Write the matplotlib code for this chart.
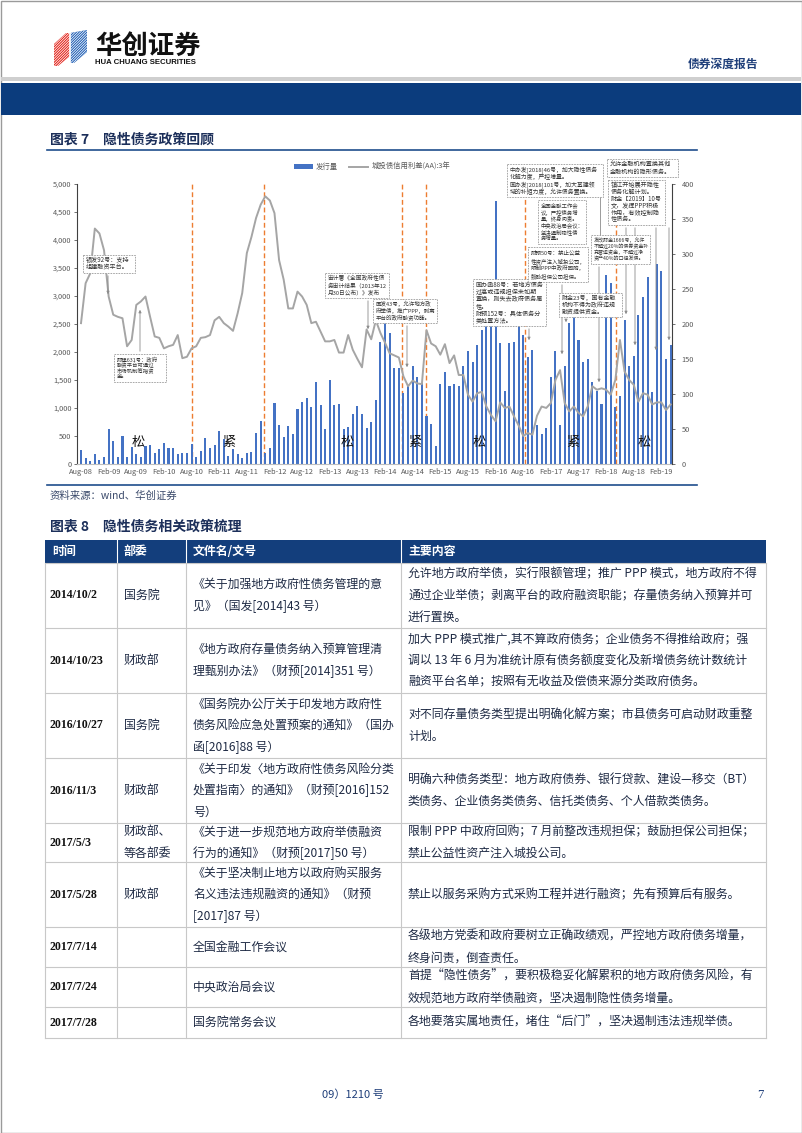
import matplotlib
matplotlib.use("Agg")
import matplotlib.pyplot as plt
from matplotlib.patches import Rectangle, Polygon
from matplotlib.ticker import FuncFormatter, MultipleLocator

plt.rcParams['font.family'] = ['Noto Sans CJK SC', 'DejaVu Sans']

W, H = 802, 1133

# ===== 数据 =====
tick_labels = ['Aug-08', 'Feb-09', 'Aug-09', 'Feb-10', 'Aug-10', 'Feb-11', 'Aug-11',
               'Feb-12', 'Aug-12', 'Feb-13', 'Aug-13', 'Feb-14', 'Aug-14', 'Feb-15',
               'Aug-15', 'Feb-16', 'Aug-16', 'Feb-17', 'Aug-17', 'Feb-18', 'Aug-18', 'Feb-19']

# 发行量（亿元，左轴）
issuance = [250, 100, 50, 170, 70, 130, 620, 410, 130, 500,
            130, 300, 170, 120, 330, 340, 200, 260, 380, 290,
            290, 170, 200, 200, 350, 130, 230, 470, 280, 340,
            580, 450, 140, 260, 170, 100, 190, 220, 550, 760,
            200, 280, 1090, 700, 490, 680, 540, 980, 1100, 1180,
            1020, 1460, 1060, 630, 1500, 1060, 1070, 630, 660, 890,
            1040, 890, 640, 750, 1150, 2170, 2520, 2340, 1720, 1720,
            1265, 1400, 1740, 1560, 1440, 860, 720, 315, 1425, 1640,
            1385, 1425, 1385, 1740, 2020, 1820, 2115, 2390, 2470, 2700,
            4690, 2155, 1306, 2155, 2175, 2470, 2300, 1905, 2035, 700,
            540, 640, 1550, 2020, 695, 1740, 2510, 2810, 2210, 1825,
            1865, 1455, 1306, 1070, 3373, 3225, 1010, 1205, 2560, 1752,
            1935, 2666, 2975, 3337, 1290, 3560, 3440, 1870, 2115]

# 城投债信用利差(AA):3年（bp，右轴）
spread = [201, 258, 272, 336, 329, 305, 239, 213, 210, 208,
          168, 177, 227, 232, 239, 210, 182, 180, 165, 168,
          170, 184, 151, 153, 165, 168, 180, 181, 184, 205,
          210, 201, 196, 190, 215, 244, 301, 324, 351, 370,
          382, 376, 358, 291, 263, 222, 222, 246, 239, 227,
          201, 203, 189, 175, 175, 177, 159, 159, 184, 163,
          150, 138, 192, 178, 205, 187, 173, 158, 155, 152,
          125, 111, 119, 115, 114, 191, 172, 168, 156, 171,
          144, 155, 127, 127, 99, 89, 101, 103, 82, 70,
          61, 88, 80, 82, 68, 55, 40, 44, 42, 69,
          82, 80, 87, 120, 134, 87, 75, 82, 73, 68,
          82, 111, 106, 108, 106, 99, 120, 177, 132, 120,
          113, 89, 101, 99, 85, 88, 88, 77, 85]

policy_idx = [24.1, 39.7, 69.6, 75.0, 96.3, 116.2]
regime_text = ['松', '紧', '松', '紧', '松', '紧', '松']
regime_idx = [12.4, 32.1, 57.7, 72.5, 86.4, 106.7, 122.2]

notes = [
    # (左, 上, 宽, 高, 文本)
    (83, 255, 52, 18, ['银发92号：支持', '组建融资平台。']),
    (114, 354, 52, 28, ['财建631号：政府', '融资平台可通过', '市场机制筹措资', '金。']),
    (325, 273, 64, 25, ['审计署《全国政府性债', '务审计结果（2013年12', '月30日公布）》发布']),
    (373, 299, 64, 24, ['国发43号，允许地方政', '府举债，推广PPP，剥离', '平台的政府融资功能。']),
    (473, 279, 73, 47, ['国办函88号：若地方债务', '过高或违规担保未如期', '置换，则失去政府债务属',
                        '性。', '财预152号：具体债务分', '类处置方法。']),
    (538, 200, 48, 44, ['全国金融工作会', '议，严控债务增', '量，终身问责。', '中央政治局会议：',
                        '坚决遏制隐性债', '务增量。']),
    (528, 247, 60, 35, ['财预50号：禁止公益', '性资产注入城投公司，', '限制PPP中政府回购，', '鼓励担保公司担保。']),
    (507, 164, 96, 33, ['中办发[2018]46号，加大隐性债务', '化解力度，严控增量。',
                        '国办发[2018]101号，加大基建领', '域的补短力度，允许债务置换。']),
    (607, 159, 71, 18, ['允许金融机构置换其他', '金融机构的隐形债务。']),
    (608, 180, 57, 45, ['镇江开始展开隐性', '债务化解计划。', '财金【2019】10号', '文，发挥PPP积极',
                        '作用，有效控制隐', '性债务。']),
    (591, 235, 59, 29, ['发改财金1666号，允许', '不超过20%的债券资金补', '充营运资金，不超过净', '资产40%的口径发债。']),
    (559, 293, 63, 24, ['财金23号，国有金融', '机构不得为政府违规', '融资提供资金。']),
]
arrows = [((108, 273), (108, 297)), ((140, 354), (140, 307)), ((368, 298), (368, 332)),
          ((407, 323), (407, 370)), ((529, 326), (529, 343)), ((562, 282), (562, 357)),
          ((566, 317), (566, 325)), ((599, 264), (599, 385)), ((635, 225), (635, 348)),
          ((626, 225), (626, 317)), ((656, 225), (656, 353)), ((669, 225), (669, 343))]

# ===== 表格数据 =====
t_dates = ['2014/10/2', '2014/10/23', '2016/10/27', '2016/11/3', '2017/5/3',
           '2017/5/28', '2017/7/14', '2017/7/24', '2017/7/28']
t_depts = [['国务院'], ['财政部'], ['国务院'], ['财政部'], ['财政部、', '等各部委'],
           ['财政部'], [], [], []]
t_docs = [['《关于加强地方政府性债务管理的意', '见》（国发[2014]43 号）'],
          ['《地方政府存量债务纳入预算管理清', '理甄别办法》（财预[2014]351 号）'],
          ['《国务院办公厅关于印发地方政府性', '债务风险应急处置预案的通知》（国办', '函[2016]88 号）'],
          ['《关于印发〈地方政府性债务风险分类', '处置指南〉的通知》（财预[2016]152', '号）'],
          ['《关于进一步规范地方政府举债融资', '行为的通知》（财预[2017]50 号）'],
          ['《关于坚决制止地方以政府购买服务', '名义违法违规融资的通知》（财预', '[2017]87 号）'],
          ['全国金融工作会议'],
          ['中央政治局会议'],
          ['国务院常务会议']]
t_content = [['允许地方政府举债，实行限额管理；推广 PPP 模式，地方政府不得',
              '通过企业举债；剥离平台的政府融资职能；存量债务纳入预算并可', '进行置换。'],
             ['加大 PPP 模式推广,其不算政府债务；企业债务不得推给政府；强',
              '调以 13 年 6 月为准统计原有债务额度变化及新增债务统计数统计',
              '融资平台名单；按照有无收益及偿债来源分类政府债务。'],
             ['对不同存量债务类型提出明确化解方案；市县债务可启动财政重整', '计划。'],
             ['明确六种债务类型：地方政府债券、银行贷款、建设—移交（BT）',
              '类债务、企业债务类债务、信托类债务、个人借款类债务。'],
             ['限制 PPP 中政府回购；7 月前整改违规担保；鼓励担保公司担保；', '禁止公益性资产注入城投公司。'],
             ['禁止以服务采购方式采购工程并进行融资；先有预算后有服务。'],
             ['各级地方党委和政府要树立正确政绩观，严控地方政府债务增量，', '终身问责，倒查责任。'],
             ['首提“隐性债务”，要积极稳妥化解累积的地方政府债务风险，有',
              '效规范地方政府举债融资，坚决遏制隐性债务增量。'],
             ['各地要落实属地责任，堵住“后门”，坚决遏制违法违规举债。']]
row_edges = [563, 628, 693, 758, 823, 862, 927, 967, 1007, 1038]
col_edges = [45, 117, 186, 401, 766]
header = ['时间', '部委', '文件名/文号', '主要内容']

NAVY = '#0b3c7d'
TXT = '#1e2a44'
GRID = '#595959'


def em_width(s):
    return sum(0.55 if ord(ch) < 128 else 1.0 for ch in s)


fig = plt.figure(figsize=(W / 100, H / 100), dpi=100)
fig.patch.set_facecolor('white')

# ===== 图表 =====
ax = fig.add_axes([77 / W, 1 - 464 / H, (672 - 77) / W, (464 - 183.7) / H])
x = list(range(len(issuance)))
bars = ax.bar(x, issuance, width=0.45, color='#4472C4', zorder=2, label='发行量')
ax.set_xlim(-0.87, 128.3)
ax.set_ylim(0, 5000)
ax.yaxis.set_major_locator(MultipleLocator(500))
ax.yaxis.set_major_formatter(FuncFormatter(lambda v, p: f'{int(v):,}'))
ax.set_xticks(range(0, 6 * len(tick_labels), 6))
ax.set_xticklabels(tick_labels)
ax.tick_params(axis='both', labelsize=5.3, colors=GRID, length=2, width=0.6, pad=2)
ax.tick_params(axis='x', length=0, pad=3)
for s in ['top', 'right']:
    ax.spines[s].set_visible(False)
ax.spines['left'].set_color('#404040')
ax.spines['bottom'].set_color('#bfbfbf')
for px in policy_idx:
    ax.axvline(px, color='#ED7D31', lw=1.0, dashes=(3.5, 2), zorder=1)
for t, px in zip(regime_text, regime_idx):
    ax.text(px, 390, t, ha='center', va='center', fontsize=9.5, color='#111111', zorder=5)

ax2 = ax.twinx()
line, = ax2.plot(x, spread, color='#A5A5A5', lw=1.4, zorder=3, label='城投债信用利差(AA):3年')
ax2.set_ylim(0, 400)
ax2.yaxis.set_major_locator(MultipleLocator(50))
ax2.tick_params(axis='y', labelsize=5.3, colors=GRID, length=2, width=0.6, pad=5)
for s in ['top', 'left', 'bottom']:
    ax2.spines[s].set_visible(False)
ax2.spines['right'].set_color('#404040')

fig.legend([bars, line], ['发行量', '城投债信用利差(AA):3年'], loc='center',
           bbox_to_anchor=(372 / W, 1 - 167 / H), ncol=2, frameon=False, fontsize=5.3,
           labelcolor=GRID, handlelength=2.6, handleheight=0.6, columnspacing=1.5, handletextpad=0.4)

# ===== 页面覆盖层 =====
ov = fig.add_axes([0, 0, 1, 1], facecolor='none')
ov.set_xlim(0, W)
ov.set_ylim(H, 0)
ov.axis('off')

ov.add_patch(Rectangle((0.5, 0.5), W - 1, H - 1, fill=False, ec='#9a9a9a', lw=1))

# logo：红蓝条纹立方体
red_face = Polygon([(54, 44), (66, 33), (70, 33), (70, 56), (58, 66), (54, 66)], closed=True,
                   fc='#e2231a', ec='none')
blue_face = Polygon([(70, 33), (87, 30), (87, 52), (74, 63), (70, 63)], closed=True,
                    fc='#1f5fb5', ec='none')
ov.add_patch(red_face)
ov.add_patch(blue_face)
for k in range(-12, 20):
    x0 = 40 + k * 2.6
    for face in (red_face, blue_face):
        ln, = ov.plot([x0, x0 + 40], [70, 30], color='white', lw=0.55)
        ln.set_clip_path(face)
ov.plot([70, 70], [32, 64], color='white', lw=1.2)
ov.text(95, 46, '华创证券', fontsize=19, fontweight='bold', color='#111111', va='center', ha='left')
ov.text(95, 62.5, 'HUA CHUANG SECURITIES', fontsize=5.6, fontweight='bold', color='#111111',
        va='center', ha='left', family=['Liberation Sans Narrow', 'Liberation Sans', 'DejaVu Sans'])
ov.text(758, 64, '债券深度报告', fontsize=8.5, fontweight='bold', color='#1f3f7a', va='center', ha='right')

ov.add_patch(Rectangle((1, 77), W - 2, 3.5, fc='#cfcfcf', ec='none'))
ov.add_patch(Rectangle((1, 83), W - 2, 32, fc=NAVY, ec='none'))

# 标题
ov.text(50, 140, '图表 7　隐性债务政策回顾', fontsize=10, fontweight='bold', color='#1c2f5a', va='center')
ov.plot([47, 697], [150, 150], color='#1f4e8c', lw=1.2)
ov.plot([47, 697], [485, 485], color='#1f4e8c', lw=1.2)
ov.text(50, 496, '资料来源：wind、华创证券', fontsize=7.5, style='italic', color='#3b4a6b', va='center')
ov.text(50, 527, '图表 8　隐性债务相关政策梳理', fontsize=10, fontweight='bold', color='#1c2f5a', va='center')

# 注释框
for (l, t, w, h, lines) in notes:
    ov.add_patch(Rectangle((l, t), w, h, fc='white', ec='#9a9a9a', lw=0.6, ls=(0, (2, 1.2)), zorder=6))
    step = (h - 4) / len(lines)
    fs = min(4.4, (w - 5) / max(em_width(s) for s in lines) / 1.389, step / 1.389 / 1.12)
    for k, s in enumerate(lines):
        ov.text(l + 2.5, t + 2 + step * (k + 0.5), s, fontsize=fs, color='#333333',
                va='center', ha='left', zorder=7)
for (p0, p1) in arrows:
    ov.annotate('', xy=p1, xytext=p0,
                arrowprops=dict(arrowstyle='-|>', color='#8c8c8c', lw=0.6, mutation_scale=4))
ov.plot([600, 600], [197, 235], color='#8c8c8c', lw=0.6)

# ===== 表格 =====
ov.add_patch(Rectangle((col_edges[0], 540), col_edges[-1] - col_edges[0], 23, fc='#133e7c', ec='none'))
for c, htxt in enumerate(header):
    ov.text(col_edges[c] + 7, 551.5, htxt, fontsize=8.6, fontweight='bold', color='white', va='center')
for c in col_edges[1:-1]:
    ov.plot([c, c], [540, 563], color='white', lw=0.8)

for y in row_edges:
    ov.plot([col_edges[0], col_edges[-1]], [y, y], color='#c8c8c8', lw=0.8)
for c in col_edges:
    ov.plot([c, c], [563, row_edges[-1]], color='#c8c8c8', lw=0.8)

step = 21.5
for r in range(len(t_dates)):
    top, bot = row_edges[r], row_edges[r + 1]
    mid = (top + bot) / 2
    ov.text(col_edges[0] + 5, mid, t_dates[r], fontsize=8.6, fontweight='bold', color='#111111',
            va='center', family=['Liberation Serif', 'DejaVu Serif'])
    for c, cell in ((1, t_depts[r]), (2, t_docs[r]), (3, t_content[r])):
        n = len(cell)
        for k, s in enumerate(cell):
            yy = mid + (k - (n - 1) / 2) * step
            ov.text(col_edges[c] + 7, yy, s, fontsize=8.6, color=TXT, va='center', ha='left')

# 页脚
ov.text(322, 1095, '09）1210 号', fontsize=8, color='#1f3f7a', va='center')
ov.text(757, 1095, '7', fontsize=9, color='#1f3f7a', va='center', family=['Liberation Serif', 'DejaVu Serif'])

fig.savefig('out.png', dpi=100)
